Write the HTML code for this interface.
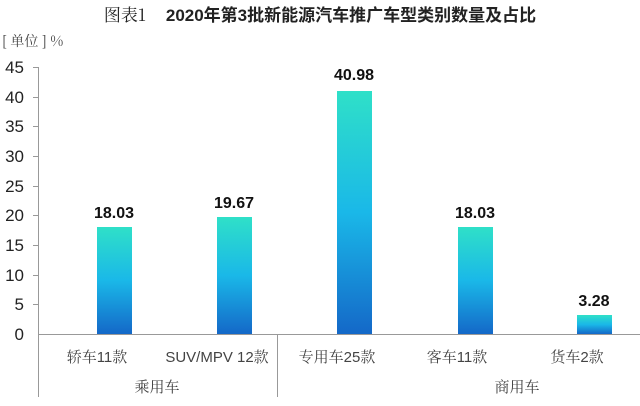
<!DOCTYPE html>
<html><head><meta charset="utf-8"><style>
body{margin:0;background:#fff;}
</style></head><body>
<svg width="640" height="401" xmlns="http://www.w3.org/2000/svg" font-family="'Liberation Sans','Noto Sans CJK SC',sans-serif">
<defs>
<linearGradient id="g" x1="0" y1="0" x2="0" y2="1">
<stop offset="0" stop-color="#2fe0c8"/>
<stop offset="0.5" stop-color="#1ab8e8"/>
<stop offset="1" stop-color="#1468c8"/>
</linearGradient>
</defs>
<text x="320" y="21" text-anchor="middle" font-size="17" fill="#222"><tspan font-family="'Noto Serif CJK SC',serif">图表1</tspan><tspan dx="20" font-weight="bold">2020年第3批新能源汽车推广车型类别数量及占比</tspan></text>
<text x="2" y="46" font-size="14" fill="#444" font-family="'Noto Serif CJK SC',serif">[ 单位 ] %</text>
<g font-size="17" fill="#222" text-anchor="end">
<text x="24" y="73">45</text><text x="24" y="103">40</text><text x="24" y="132">35</text><text x="24" y="162">30</text><text x="24" y="192">25</text><text x="24" y="221">20</text><text x="24" y="251">15</text><text x="24" y="281">10</text><text x="24" y="310">5</text><text x="24" y="340">0</text>
</g>
<g stroke="#999" stroke-width="1">
<line x1="38.5" y1="67" x2="38.5" y2="397"/>
<line x1="33" y1="67.5" x2="38" y2="67.5"/><line x1="33" y1="97.5" x2="38" y2="97.5"/><line x1="33" y1="126.5" x2="38" y2="126.5"/><line x1="33" y1="156.5" x2="38" y2="156.5"/><line x1="33" y1="186.5" x2="38" y2="186.5"/><line x1="33" y1="215.5" x2="38" y2="215.5"/><line x1="33" y1="245.5" x2="38" y2="245.5"/><line x1="33" y1="275.5" x2="38" y2="275.5"/><line x1="33" y1="304.5" x2="38" y2="304.5"/>
<line x1="38" y1="334.5" x2="640" y2="334.5"/>
<line x1="277.5" y1="334" x2="277.5" y2="397"/>
</g>
<g fill="url(#g)">
<rect x="97" y="227" width="35" height="107"/>
<rect x="217" y="217" width="35" height="117"/>
<rect x="337" y="91" width="35" height="243"/>
<rect x="458" y="227" width="35" height="107"/>
<rect x="577" y="315" width="35" height="19"/>
</g>
<g font-size="16" font-weight="bold" fill="#111" text-anchor="middle">
<text x="114" y="218">18.03</text><text x="234" y="208">19.67</text><text x="354" y="80">40.98</text><text x="475" y="218">18.03</text><text x="594" y="306">3.28</text>
</g>
<g font-size="15" fill="#444" text-anchor="middle" font-family="'Liberation Sans','Noto Serif CJK SC',serif">
<text x="97" y="362">轿车11款</text><text x="217" y="362">SUV/MPV 12款</text><text x="337" y="362">专用车25款</text><text x="457" y="362">客车11款</text><text x="577" y="362">货车2款</text>
<text x="157" y="392">乘用车</text><text x="517" y="392">商用车</text>
</g>
</svg>
</body></html>
